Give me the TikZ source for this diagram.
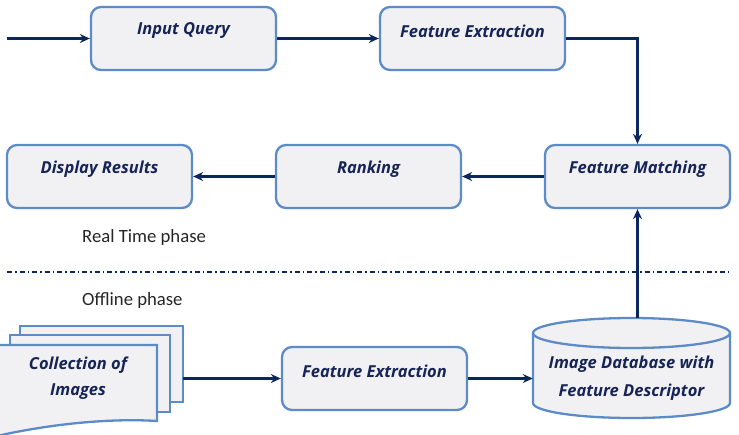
\documentclass[tikz,border=0pt]{standalone}
\usepackage{fontspec}
\setmainfont{Open Sans}
\newfontfamily\phasefont{Carlito}
\usetikzlibrary{arrows.meta}
\definecolor{boxline}{RGB}{92,139,200}
\definecolor{boxfill}{RGB}{241,241,243}
\definecolor{navy}{RGB}{12,38,94}
\definecolor{txt}{RGB}{22,36,86}
\tikzset{
  box/.style={draw=boxline, line width=2.3pt, fill=boxfill, rounded corners=10pt,
              minimum width=185pt, minimum height=63pt, inner sep=0pt},
  lbl/.style={font=\fontsize{16.5}{18}\selectfont\bfseries\itshape, text=txt, inner sep=0pt, align=center},
  arr/.style={draw=navy, line width=2.6pt, -{Stealth[length=10pt,width=9pt]}},
  phase/.style={font=\phasefont\fontsize{18.7}{20}\selectfont, text=black!85, anchor=west, inner sep=0pt},
  sheet/.style={draw=boxline, line width=2.3pt, fill=boxfill},
}
\begin{document}
\begin{tikzpicture}[x=1pt,y=1pt]
\useasboundingbox (0,0) rectangle (739,-434);
% top row
\node[box] (iq) at (183.5,-38.5) {};
\node[lbl] at ([yshift=-25pt]iq.north) {Input Query};
\node[box] (fe) at (472.5,-38.5) {};
\node[lbl] at ([yshift=-25pt]fe.north) {Feature Extraction};
% middle row
\node[box] (dr) at (99.5,-176.5) {};
\node[lbl] at ([yshift=-25pt]dr.north) {Display Results};
\node[box] (rk) at (368.5,-176.5) {};
\node[lbl] at ([yshift=-25pt]rk.north) {Ranking};
\node[box] (fm) at (637.5,-176.5) {};
\node[lbl] at ([yshift=-25pt]fm.north) {Feature Matching};
% phases
\node[phase] (rt) at (82,-238) {Real Time phase};
\node[phase] (off) at (82,-301) {Offline phase};
\coordinate (dl) at (7,-272);
\coordinate (dr2) at (731,-272);
\draw[navy, line width=1.2pt, dash pattern=on 5pt off 3pt on 1.5pt off 3pt] (dl) -- (dr2);
% bottom row
\node[box] (fe2) at (374.5,-378.5) {};
\node[lbl] at ([yshift=-25pt]fe2.north) {Feature Extraction};
% document stack
\draw[sheet] (20,-326) rectangle (183,-402);
\draw[sheet] (10,-335) rectangle (170,-412);
\draw[sheet] (-3,-345) -- (157,-345) -- (157,-421)
   .. controls (110,-418) and (50,-424) .. (-3,-436) -- cycle;
\node[minimum width=183pt, minimum height=107pt, inner sep=0pt] (coll) at (91.5,-379.5) {};
\node[lbl, font=\fontsize{16.5}{26}\selectfont\bfseries\itshape] at (78,-378) {Collection of\\Images};
% cylinder
\draw[sheet] (533,-333) -- (533,-403) arc[start angle=180,end angle=360,x radius=98.5pt,y radius=15pt]
   -- (730,-333) arc[start angle=0,end angle=180,x radius=98.5pt,y radius=15pt] -- cycle;
\draw[boxline, line width=2.3pt] (533,-333) arc[start angle=180,end angle=360,x radius=98.5pt,y radius=15pt];
\node[minimum width=197pt, minimum height=100pt, inner sep=0pt] (db) at (631.5,-368) {};
\node[lbl, font=\fontsize{16.5}{28}\selectfont\bfseries\itshape] at (631.5,-378) {Image Database with\\Feature Descriptor};
% connectors
\coordinate (in) at (7,-38.5);
\draw[arr] (in) -- (iq.west);
\draw[arr] (iq.east) -- (fe.west);
\draw[arr] (fe.east) -| (fm.north);
\draw[arr] (fm.west) -- (rk.east);
\draw[arr] (rk.west) -- (dr.east);
\draw[arr] (fe2.west -| coll.east) -- (fe2.west);
\draw[arr] (fe2.east) -- (fe2.east -| db.west);
\draw[arr] (db.north -| fm.south) -- (fm.south);
\end{tikzpicture}
\end{document}
